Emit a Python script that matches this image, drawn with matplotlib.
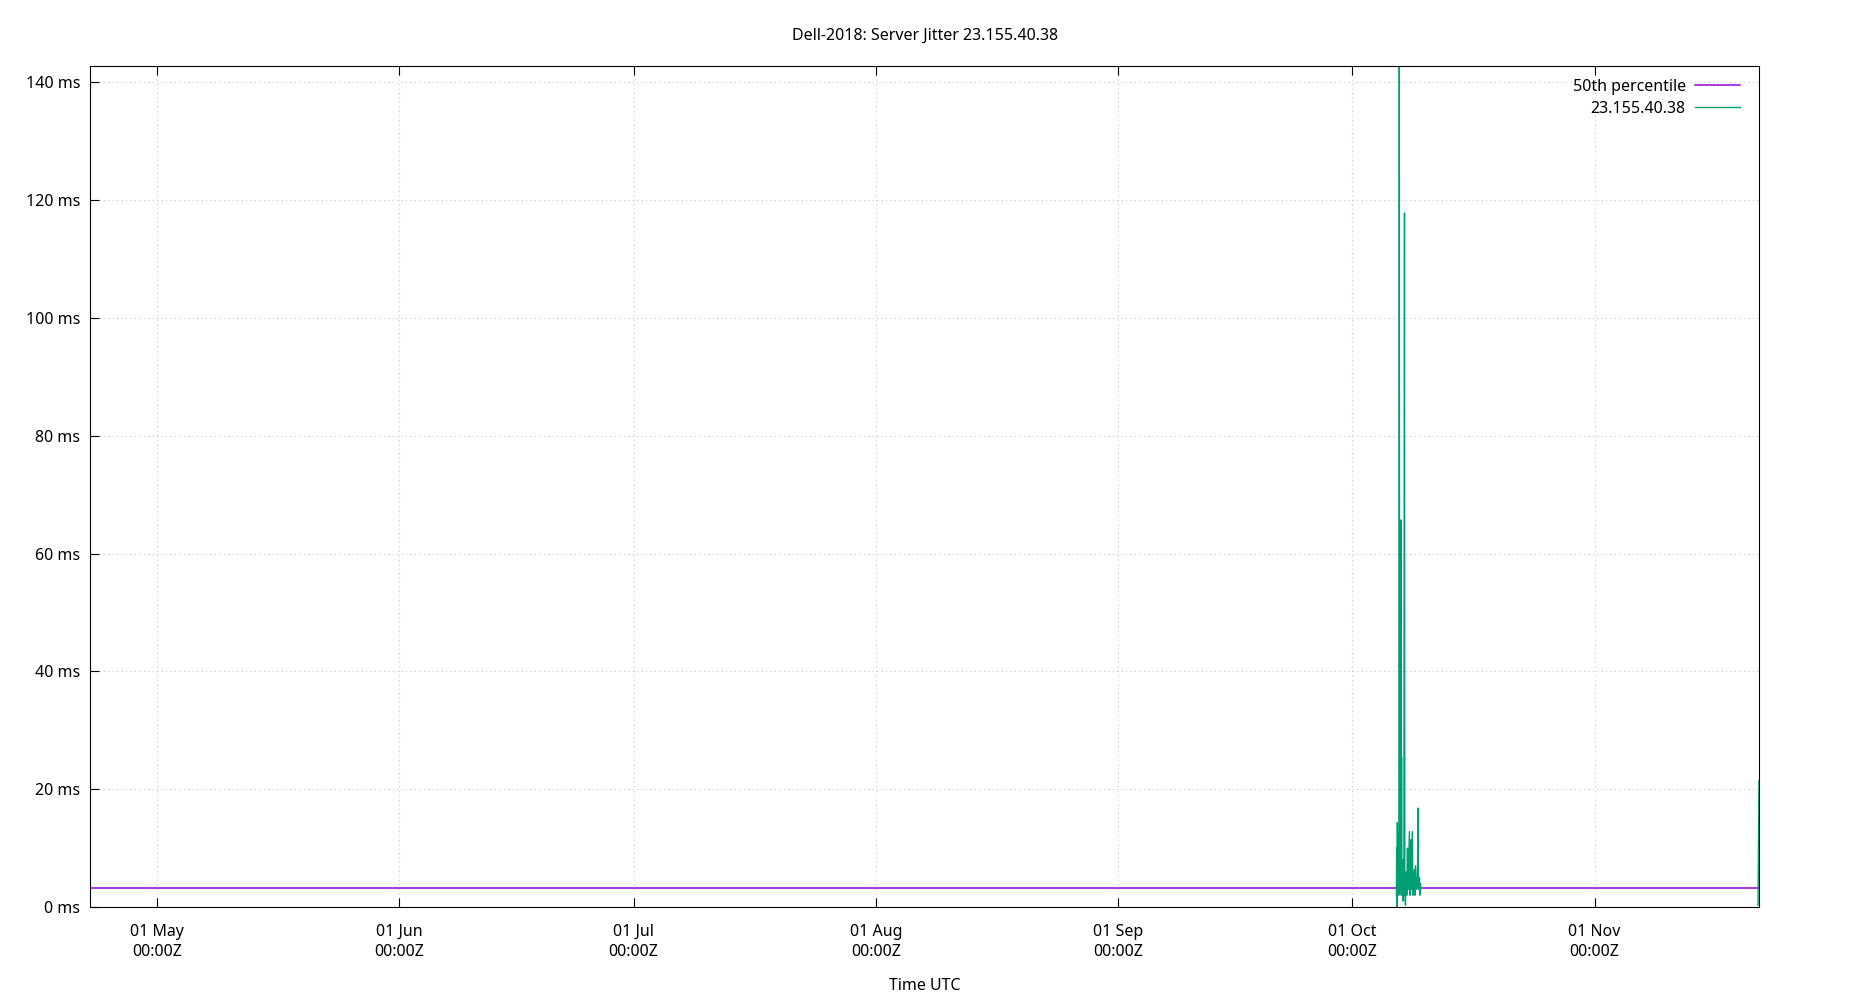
import numpy as np
import pandas as pd
import matplotlib
matplotlib.use('Agg')
import matplotlib.pyplot as plt
import matplotlib.dates as mdates
from matplotlib.ticker import FuncFormatter

plt.rcParams['font.family'] = ['Noto Sans', 'DejaVu Sans']

# jitter samples: hours after 2021-10-01 00:00 UTC, value in ms
base = pd.Timestamp('2021-10-01 00:00')
burst_hours = [135, 136, 137, 138, 140, 141, 143, 144, 145, 146, 148, 149, 150,
               151, 152, 154, 155, 157, 158, 160, 161, 163, 164, 166, 167, 169,
               171, 172, 175, 177, 178, 180, 181, 184, 186, 187, 191, 192, 194,
               197, 200, 201, 203, 206, 207, 209, 210]
burst_ms = [2.0, 10.0, 0.0, 14.3, 3.0, 5.0, 2.0, 142.8, 3.0, 46.7, 4.0, 65.7, 2.0,
            25.5, 3.0, 8.0, 1.0, 5.0, 2.0, 117.8, 3.0, 0.3, 4.0, 6.0, 2.0, 10.0,
            3.0, 5.0, 12.8, 2.0, 4.0, 11.4, 3.0, 12.8, 2.0, 5.0, 6.4, 2.0, 7.0,
            3.0, 4.0, 16.8, 3.0, 5.0, 2.0, 4.0, 3.0]
tail_hours = [1246, 1249]
tail_ms = [0.3, 21.4]

p50_ms = 3.2
x_start = pd.Timestamp('2021-04-22 10:00')

title = 'Dell-2018: Server Jitter 23.155.40.38'
host = '23.155.40.38'

t_burst = base + pd.to_timedelta(burst_hours, unit='h')
t_tail = base + pd.to_timedelta(tail_hours, unit='h')
x_end = t_tail[-1]

fig = plt.figure(figsize=(18.5, 10), dpi=100)
ax = fig.add_axes([90 / 1850, 1 - 907 / 1000, (1759 - 90) / 1850, (907 - 65.7) / 1000])

green = '#009e73'
purple = '#9400d3'

ax.plot([x_start, x_end], [p50_ms, p50_ms], color=purple, lw=1.1, label='50th percentile')
ax.plot(t_burst, burst_ms, color=green, lw=1.0, label=host)
ax.plot(t_tail, tail_ms, color=green, lw=1.0)

ax.set_xlim(x_start, x_end)
ax.set_ylim(0, max(burst_ms))
ax.set_yticks(np.arange(0, 141, 20))
ax.yaxis.set_major_formatter(FuncFormatter(lambda v, p: '%d ms' % v))
ax.xaxis.set_major_locator(mdates.MonthLocator())
ax.xaxis.set_major_formatter(mdates.DateFormatter('%d %b\n%H:%MZ'))

ax.grid(True, color='#c8c8c8', linestyle=(0, (1, 3)), lw=0.8)
ax.tick_params(axis='x', direction='in', length=6.5, width=0.8, top=True,
               labelsize=11.5, pad=12)
ax.tick_params(axis='y', direction='in', length=6.5, width=0.8, right=False,
               labelsize=11.5, pad=7)
for lbl in ax.get_xticklabels():
    lbl.set_linespacing(1.35)
for s in ax.spines.values():
    s.set_linewidth(0.8)

ax.set_title(title, fontsize=11.5, pad=18.5)
ax.set_xlabel('Time UTC', fontsize=11.5, labelpad=13)

leg = ax.legend(loc='upper right', bbox_to_anchor=(1 - 3 / 1669, 1 + 3 / 841),
                frameon=False, markerfirst=False, fontsize=11.5,
                handlelength=2.8, handletextpad=0.6, labelspacing=0.4,
                borderaxespad=0.6)
for t in leg.get_texts():
    t.set_ha('right')
leg._legend_box.align = 'right'

fig.savefig('out.png', dpi=100)
